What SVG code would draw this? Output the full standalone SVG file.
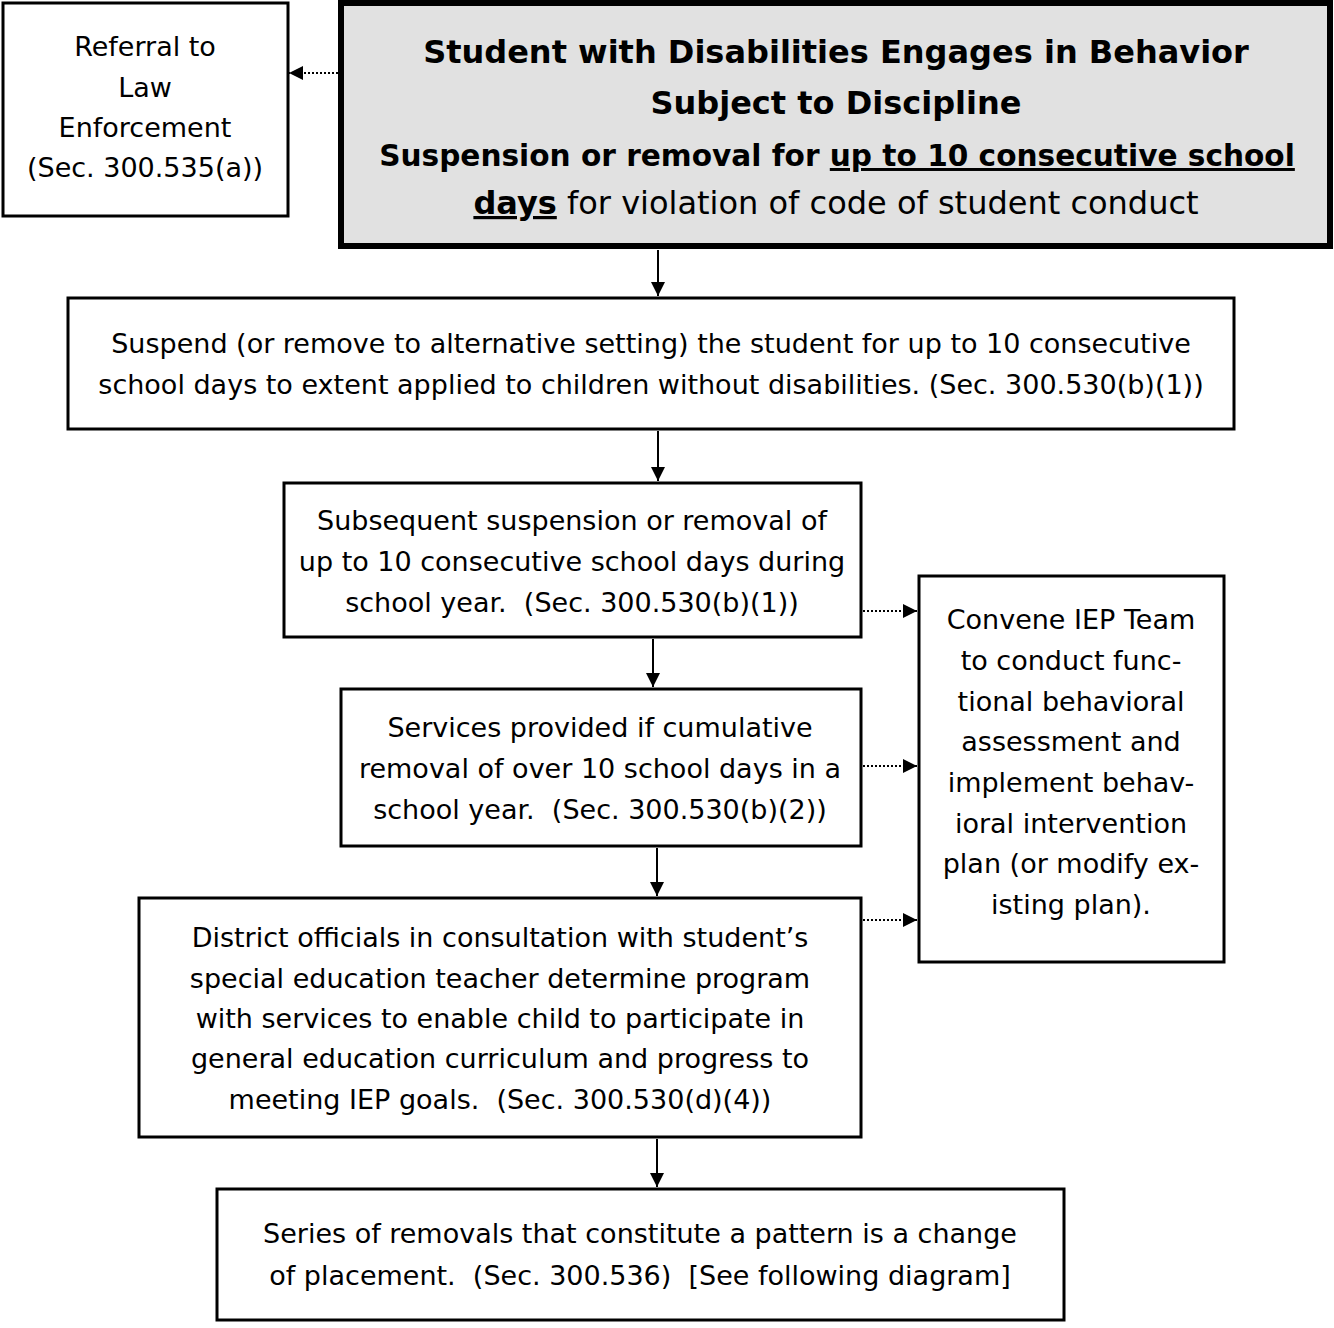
<svg xmlns="http://www.w3.org/2000/svg" width="1334" height="1328" viewBox="0 0 1334 1328">
<style>
.box{fill:#ffffff;stroke:#000;stroke-width:3}
.main{fill:#e1e1e1;stroke:#000;stroke-width:6}
text{font-family:"DejaVu Sans","Liberation Sans",sans-serif;font-size:27px;fill:#000;text-anchor:middle;white-space:pre}
.t{font-size:32px;font-weight:bold}
.b{font-weight:bold}
.u{text-decoration:underline}
.solid{stroke:#000;stroke-width:2;fill:none}
.dot{stroke:#000;stroke-width:2;stroke-dasharray:2 2;fill:none}
</style>
<defs>
<marker id="ah" viewBox="0 0 10 10" refX="10" refY="5" markerWidth="14" markerHeight="14" markerUnits="userSpaceOnUse" orient="auto">
<path d="M0,0 L10,5 L0,10 z" fill="#000"/>
</marker>
</defs>
<g id="connectors">
<path class="dot" d="M338,73 L289,73" marker-end="url(#ah)"/>
<path class="solid" d="M658,250 L658,296" marker-end="url(#ah)"/>
<path class="solid" d="M658,431 L658,481" marker-end="url(#ah)"/>
<path class="solid" d="M653,639 L653,687" marker-end="url(#ah)"/>
<path class="solid" d="M657,848 L657,896" marker-end="url(#ah)"/>
<path class="solid" d="M657,1139 L657,1187" marker-end="url(#ah)"/>
<path class="dot" d="M863,611 L917,611" marker-end="url(#ah)"/>
<path class="dot" d="M863,766 L917,766" marker-end="url(#ah)"/>
<path class="dot" d="M863,920 L917,920" marker-end="url(#ah)"/>
</g>
<g id="referral">
<rect class="box" x="3" y="3" width="285" height="213"/>
<text x="145" y="56">Referral to</text>
<text x="145" y="97">Law</text>
<text x="145" y="137">Enforcement</text>
<text x="145" y="177">(Sec. 300.535(a))</text>
</g>
<g id="start">
<rect class="main" x="341" y="3" width="989" height="243"/>
<text class="t" x="836" y="63">Student with Disabilities Engages in Behavior</text>
<text class="t" x="836" y="114">Subject to Discipline</text>
<text class="t" x="837" y="166" style="font-size:29.6px">Suspension or removal for <tspan class="u">up to 10 consecutive school</tspan></text>
<text x="836" y="214" style="font-size:32px"><tspan class="b u">days</tspan> for violation of code of student conduct</text>
</g>
<g id="suspend">
<rect class="box" x="68" y="298" width="1166" height="131"/>
<text x="651" y="353">Suspend (or remove to alternative setting) the student for up to 10 consecutive</text>
<text x="651" y="394">school days to extent applied to children without disabilities. (Sec. 300.530(b)(1))</text>
</g>
<g id="subsequent">
<rect class="box" x="284" y="483" width="577" height="154"/>
<text x="572" y="530">Subsequent suspension or removal of</text>
<text x="572" y="571">up to 10 consecutive school days during</text>
<text x="572" y="612">school year.  (Sec. 300.530(b)(1))</text>
</g>
<g id="services">
<rect class="box" x="341" y="689" width="520" height="157"/>
<text x="600" y="737">Services provided if cumulative</text>
<text x="600" y="778">removal of over 10 school days in a</text>
<text x="600" y="819">school year.  (Sec. 300.530(b)(2))</text>
</g>
<g id="district">
<rect class="box" x="139" y="898" width="722" height="239"/>
<text x="500" y="947">District officials in consultation with student’s</text>
<text x="500" y="988">special education teacher determine program</text>
<text x="500" y="1028">with services to enable child to participate in</text>
<text x="500" y="1068">general education curriculum and progress to</text>
<text x="500" y="1109">meeting IEP goals.  (Sec. 300.530(d)(4))</text>
</g>
<g id="series">
<rect class="box" x="217" y="1189" width="847" height="131"/>
<text x="640" y="1243">Series of removals that constitute a pattern is a change</text>
<text x="640" y="1285">of placement.  (Sec. 300.536)  [See following diagram]</text>
</g>
<g id="convene">
<rect class="box" x="919" y="576" width="305" height="386"/>
<text x="1071" y="629">Convene IEP Team</text>
<text x="1071" y="670">to conduct func-</text>
<text x="1071" y="711">tional behavioral</text>
<text x="1071" y="751">assessment and</text>
<text x="1071" y="792">implement behav-</text>
<text x="1071" y="833">ioral intervention</text>
<text x="1071" y="873">plan (or modify ex-</text>
<text x="1071" y="914">isting plan).</text>
</g>
</svg>
